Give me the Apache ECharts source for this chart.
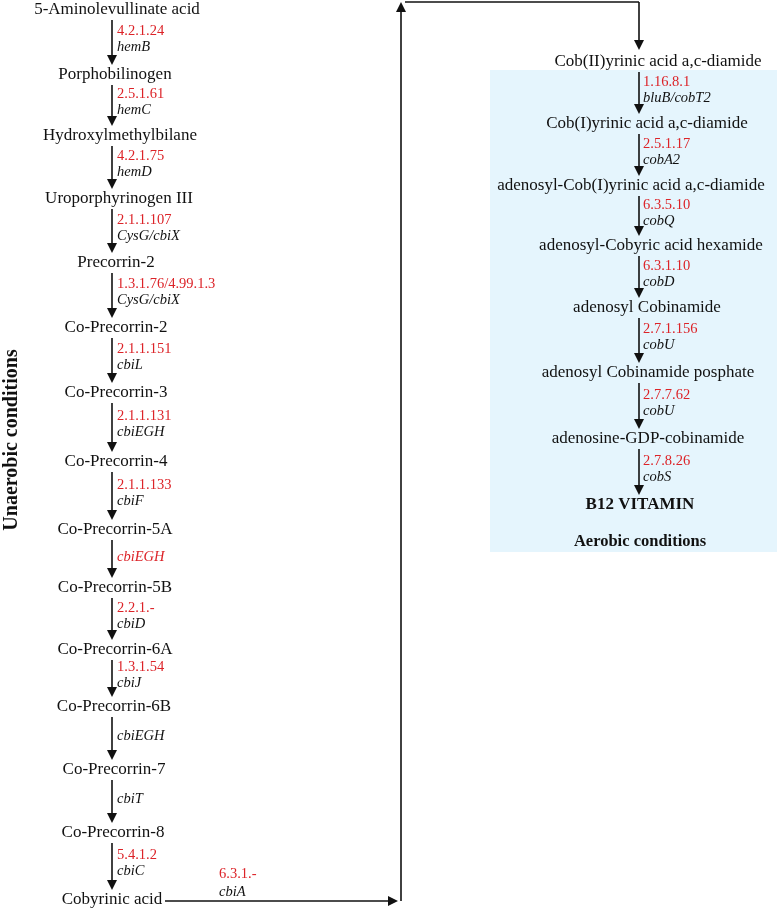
<!DOCTYPE html>
<html><head><meta charset="utf-8">
<script src="https://cdn.jsdelivr.net/npm/echarts@6/dist/echarts.min.js"></script>
<style>html,body{margin:0;padding:0;background:#fff}#c{width:777px;height:911px}</style>
</head><body><div id="c"></div>
<script>
// ---------- DATA ----------
const anaerobicCompounds = ['5-Aminolevullinate acid','Porphobilinogen','Hydroxylmethylbilane','Uroporphyrinogen III','Precorrin-2','Co-Precorrin-2','Co-Precorrin-3','Co-Precorrin-4','Co-Precorrin-5A','Co-Precorrin-5B','Co-Precorrin-6A','Co-Precorrin-6B','Co-Precorrin-7','Co-Precorrin-8','Cobyrinic acid'];
const anaerobicEC = ['4.2.1.24','2.5.1.61','4.2.1.75','2.1.1.107','1.3.1.76/4.99.1.3','2.1.1.151','2.1.1.131','2.1.1.133','','2.2.1.-','1.3.1.54','','','5.4.1.2'];
const anaerobicGenes = ['hemB','hemC','hemD','CysG/cbiX','CysG/cbiX','cbiL','cbiEGH','cbiF','cbiEGH','cbiD','cbiJ','cbiEGH','cbiT','cbiC'];
const anaerobicRedGeneSteps = [8];
const transferEC = ['6.3.1.-'];
const transferGene = ['cbiA'];
const aerobicCompounds = ['Cob(II)yrinic acid a,c-diamide','Cob(I)yrinic acid a,c-diamide','adenosyl-Cob(I)yrinic acid a,c-diamide','adenosyl-Cobyric acid hexamide','adenosyl Cobinamide','adenosyl Cobinamide posphate','adenosine-GDP-cobinamide','B12 VITAMIN'];
const aerobicEC = ['1.16.8.1','2.5.1.17','6.3.5.10','6.3.1.10','2.7.1.156','2.7.7.62','2.7.8.26'];
const aerobicGenes = ['bluB/cobT2','cobA2','cobQ','cobD','cobU','cobU','cobS'];
const panelTitles = ['Unaerobic conditions','Aerobic conditions'];

// ---------- LAYOUT (positions only) ----------
const LAY = {
  leftY: [10,75,136,199,263,328,393,462,530,588,650,707,770,833,900],
  leftX: [117,115,120,119,116,116,116,116,115,115,115,114,114,113,112],
  leftArrowX: 112, leftLabelX: 117,
  rightY: [62,124,186,246,308,373,439,505],
  rightX: [658,647,631,651,647,648,648,640],
  rightArrowX: 639, rightLabelX: 643,
  startGap: 10, tipGap: 10, arrowLen: 10, arrowW: 8,
  ecOff: -11, geneOff: 5, singleOff: -2,
  hArrowY: 901, hArrowX0: 165, hArrowTip: 398,
  vLineX: 401, topY: 2, topX0: 405, rightTipY: 50,
  transferLabelX: 219, transferEcY: 874, transferGeneY: 892,
  box: [[490,70],[777,552]],
  unaerobicTitle: [12,440], aerobicTitle: [640,542]
};

const RED = '#dc2328', INK = '#111111', FONT = 'Liberation Serif';
const half = LAY.arrowLen / 2;

const nodes = [], ecLabels = [], geneLabels = [], arrows = [], plainLines = [];
function nodeItem(x, y, text, bold, size) {
  return { value: [x, y], label: { show: true, position: 'inside', formatter: text, fontFamily: FONT, fontSize: size || 17, fontWeight: bold ? 'bold' : 'normal', color: INK } };
}
function sideLabel(x, y, text, color, italic, size) {
  return { value: [x, y], label: { show: true, position: 'right', distance: 0, formatter: text, fontFamily: FONT, fontSize: size || 14.5, fontStyle: italic ? 'italic' : 'normal', color: color } };
}
function buildColumn(names, ecs, genes, ys, xs, ax, lx, redSteps) {
  names.forEach((n, i) => nodes.push(nodeItem(xs[i], ys[i], n, n === 'B12 VITAMIN')));
  for (let i = 0; i < names.length - 1; i++) {
    const y0 = ys[i] + LAY.startGap, tip = ys[i + 1] - LAY.tipGap;
    arrows.push({ coords: [[ax, y0], [ax, tip - half]] });
    const mid = (ys[i] + ys[i + 1]) / 2;
    const gRed = redSteps.indexOf(i) >= 0;
    if (ecs[i]) {
      ecLabels.push(sideLabel(lx, mid + LAY.ecOff, ecs[i], RED, false));
      geneLabels.push(sideLabel(lx, mid + LAY.geneOff, genes[i], INK, true));
    } else {
      geneLabels.push(sideLabel(lx, mid + LAY.singleOff, genes[i], gRed ? RED : INK, true));
    }
  }
}
buildColumn(anaerobicCompounds, anaerobicEC, anaerobicGenes, LAY.leftY, LAY.leftX, LAY.leftArrowX, LAY.leftLabelX, anaerobicRedGeneSteps);
buildColumn(aerobicCompounds, aerobicEC, aerobicGenes, LAY.rightY, LAY.rightX, LAY.rightArrowX, LAY.rightLabelX, []);

// connector
arrows.push({ coords: [[LAY.hArrowX0, LAY.hArrowY], [LAY.hArrowTip - half, LAY.hArrowY]] });
arrows.push({ coords: [[LAY.vLineX, LAY.hArrowY], [LAY.vLineX, LAY.topY + half]] });
plainLines.push({ coords: [[LAY.topX0, LAY.topY], [LAY.rightArrowX, LAY.topY]] });
arrows.push({ coords: [[LAY.rightArrowX, LAY.topY], [LAY.rightArrowX, LAY.rightTipY - half]] });
ecLabels.push(sideLabel(LAY.transferLabelX, LAY.transferEcY, transferEC[0], RED, false));
geneLabels.push(sideLabel(LAY.transferLabelX, LAY.transferGeneY, transferGene[0], INK, true));

// titles
const titles = [
  { value: LAY.unaerobicTitle, label: { show: true, position: 'inside', rotate: 90, formatter: panelTitles[0], fontFamily: FONT, fontSize: 20, fontWeight: 'bold', color: INK } },
  { value: LAY.aerobicTitle, label: { show: true, position: 'inside', formatter: panelTitles[1], fontFamily: FONT, fontSize: 16.5, fontWeight: 'bold', color: INK } }
];

const chart = echarts.init(document.getElementById('c'), null, { renderer: 'canvas' });
const textSeries = (data) => ({ type: 'scatter', symbolSize: 0, data, z: 5, silent: true, clip: false, animation: false, itemStyle: { opacity: 1 } });
chart.setOption({
  animation: false,
  grid: { left: 0, right: 0, top: 0, bottom: 0 },
  xAxis: { type: 'value', min: 0, max: 777, show: false },
  yAxis: { type: 'value', min: 0, max: 911, inverse: true, show: false },
  series: [
    { type: 'scatter', symbolSize: 0, data: [], z: 0, silent: true,
      markArea: { silent: true, itemStyle: { color: '#e5f5fd', opacity: 1 }, data: [[{ coord: LAY.box[0] }, { coord: LAY.box[1] }]] } },
    { type: 'lines', coordinateSystem: 'cartesian2d', z: 3, silent: true, animation: false,
      symbol: ['none', 'triangle'], symbolSize: [LAY.arrowW, LAY.arrowLen],
      lineStyle: { color: INK, width: 1.6, opacity: 1 }, data: arrows },
    { type: 'lines', coordinateSystem: 'cartesian2d', z: 3, silent: true, animation: false,
      symbol: ['none', 'none'], lineStyle: { color: INK, width: 1.6, opacity: 1 }, data: plainLines },
    textSeries(nodes), textSeries(ecLabels), textSeries(geneLabels), textSeries(titles)
  ]
});
</script></body></html>
